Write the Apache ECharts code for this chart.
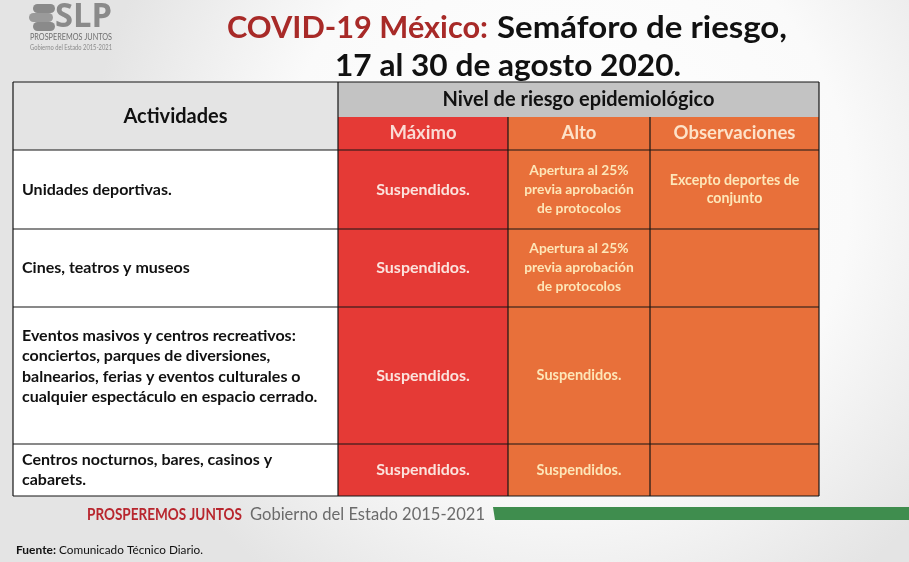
<!DOCTYPE html>
<html><head><meta charset="utf-8">
<script src="https://cdn.jsdelivr.net/npm/echarts@6/dist/echarts.min.js"></script>
<style>html,body{margin:0;padding:0;background:#fff}#c{width:909px;height:562px;}</style>
</head><body><div id="c"></div>
<script>
// ---------- data ----------
const titleRed = "COVID-19 México:";
const titleBlack = "Semáforo de riesgo,";
const titleLine2 = "17 al 30 de agosto 2020.";
const firstColumnTitle = "Actividades";
const levelTitle = "Nivel de riesgo epidemiológico";
const levelHeaders = ["Máximo", "Alto", "Observaciones"];
const activities = [
  "Unidades deportivas.",
  "Cines, teatros y museos",
  "Eventos masivos y centros recreativos:\nconciertos, parques de diversiones,\nbalnearios, ferias y eventos culturales o\ncualquier espectáculo en espacio cerrado.",
  "Centros nocturnos, bares, casinos y\ncabarets."
];
const maximo = ["Suspendidos.", "Suspendidos.", "Suspendidos.", "Suspendidos."];
const alto = [
  "Apertura al 25%\nprevia aprobación\nde protocolos",
  "Apertura al 25%\nprevia aprobación\nde protocolos",
  "Suspendidos.",
  "Suspendidos."
];
const observaciones = ["Excepto deportes de\nconjunto", "", "", ""];
const footerRed = "PROSPEREMOS JUNTOS";
const footerGray = "Gobierno del Estado 2015-2021";
const sourceLabel = "Fuente:";
const sourceText = " Comunicado Técnico Diario.";
const logoText = "SLP";
const logoLine1 = "PROSPEREMOS JUNTOS";
const logoLine2 = "Gobierno del Estado 2015-2021";

// ---------- layout / style ----------
const FONT = 'Lato';
const TABLE = {left: 13, top: 82, width: 806, height: 414};
const colEdges = [0, 325, 495, 637, 806];
const rowEdges = [0, 35, 68, 147, 225, 362, 414];
const activityOffsetY = [0, 0, -9, 0];
const RED = '#e53a36', ORANGE = '#e8703a';
const levelBg = [RED, ORANGE, ORANGE];
const headTextColor = ['#fadbd4', '#fde2c8', '#fde2c8'];
const bodyTextColor = ['#fbe3dd', '#fde6b8', '#fde6b8'];

// width-fitting helper (horizontal scale so a text spans a target width)
const mctx = document.createElement('canvas').getContext('2d');
function fitScale(text, font, target) {
  mctx.font = font;
  const w = mctx.measureText(text).width;
  return w > 0 ? target / w : 1;
}
function fitText(text, left, top, size, weight, color, target, family) {
  const fam = family || FONT;
  const s = fitScale(text, weight + ' ' + size + 'px ' + fam, target);
  return {type:'text', left:left, top:top, scaleX:s, originX:0, originY:0,
    style:{text:text, fill:color, fontSize:size, fontWeight:weight, fontFamily:fam}};
}

const cells = [];
cells.push({c0:0,c1:1,r0:0,r1:2,text:firstColumnTitle,bg:'#e4e4e4',color:'#111',size:20,align:'center',dy:1});
cells.push({c0:1,c1:4,r0:0,r1:1,text:levelTitle,bg:'#c3c3c3',color:'#111',size:20,align:'center'});
levelHeaders.forEach((h,k)=>cells.push({c0:k+1,c1:k+2,r0:1,r1:2,text:h,bg:levelBg[k],color:headTextColor[k],size:18.5,align:'center'}));
activities.forEach((a,i)=>{
  cells.push({c0:0,c1:1,r0:i+2,r1:i+3,text:a,bg:'#ffffff',color:'#111',size:16,align:'left',lh:20.5,dy:activityOffsetY[i]});
  cells.push({c0:1,c1:2,r0:i+2,r1:i+3,text:maximo[i],bg:RED,color:bodyTextColor[0],size:16,align:'center'});
  cells.push({c0:2,c1:3,r0:i+2,r1:i+3,text:alto[i],bg:ORANGE,color:bodyTextColor[1],size:i<2?13.8:14.5,align:'center',lh:19});
  cells.push({c0:3,c1:4,r0:i+2,r1:i+3,text:observaciones[i],bg:ORANGE,color:bodyTextColor[2],size:14.2,align:'center',lh:18});
});
// border segments: type h: [row, c0, c1]; type v: [col, r0, r1]
const borders = [
  ['h',0,0,4],['h',2,0,4],['h',3,0,4],['h',4,0,4],['h',5,0,4],['h',6,0,4],
  ['v',0,0,6],['v',1,0,6],['v',2,1,6],['v',3,1,6],['v',4,0,6]
];

const chart = echarts.init(document.getElementById('c'));
chart.setOption({
  backgroundColor: {type:'radial', x:0.62, y:0.35, r:0.85,
    colorStops:[{offset:0,color:'#ffffff'},{offset:0.6,color:'#fafafa'},{offset:1,color:'#e4e4e4'}]},
  animation: false,
  grid: {left: TABLE.left, top: TABLE.top, width: TABLE.width, height: TABLE.height},
  xAxis: {type:'value', min:0, max:TABLE.width, show:false},
  yAxis: {type:'value', min:0, max:TABLE.height, inverse:true, show:false},
  series: [
    {
      type:'custom', clip:false, silent:true,
      data: cells.map((_,i)=>[i]),
      renderItem: function(params, api){
        const c = cells[params.dataIndex];
        const p0 = api.coord([colEdges[c.c0], rowEdges[c.r0]]);
        const p1 = api.coord([colEdges[c.c1], rowEdges[c.r1]]);
        const w = p1[0]-p0[0], h = p1[1]-p0[1];
        const tx = c.align === 'left' ? p0[0] + 9 : p0[0] + w/2;
        return {type:'group', children:[
          {type:'rect', shape:{x:p0[0], y:p0[1], width:w, height:h}, style:{fill:c.bg}},
          {type:'text', style:{text:c.text, x:tx, y:p0[1]+h/2+(c.dy||0), align:c.align, verticalAlign:'middle',
            fill:c.color, fontSize:c.size, fontWeight:'bold', fontFamily:FONT, lineHeight:c.lh||c.size*1.3}}
        ]};
      }
    },
    {
      type:'custom', clip:false, silent:true,
      data: borders.map((_,i)=>[i]),
      renderItem: function(params, api){
        const b = borders[params.dataIndex];
        let a, z;
        if (b[0]==='h') { a = api.coord([colEdges[b[2]], rowEdges[b[1]]]); z = api.coord([colEdges[b[3]], rowEdges[b[1]]]); }
        else { a = api.coord([colEdges[b[1]], rowEdges[b[2]]]); z = api.coord([colEdges[b[1]], rowEdges[b[3]]]); }
        return {type:'line', shape:{x1:a[0], y1:a[1], x2:z[0], y2:z[1]}, style:{stroke:'#151515', lineWidth:1.2}};
      }
    }
  ],
  graphic: [
    // title
    fitText(titleRed, 227, 12, 31, 'bold', '#a82a28', 261),
    fitText(titleBlack, 497, 12, 31, 'bold', '#111', 290),
    fitText(titleLine2, 335, 50, 31, 'bold', '#111', 346),
    // logo
    {type:'rect', x:33, y:4, shape:{x:0, y:0, width:22, height:9, r:4.5}, style:{fill:'#8a8a8a'}},
    {type:'rect', x:29, y:13, shape:{x:0, y:0, width:24, height:9, r:4.5}, style:{fill:'#9a9a9a'}},
    {type:'rect', x:33, y:22, shape:{x:0, y:0, width:22, height:9, r:4.5}, style:{fill:'#8a8a8a'}},
    fitText(logoText, 55, 0, 34, 'bold', '#8a8a8a', 57, 'Open Sans'),
    fitText(logoLine1, 30, 33, 9, 'normal', '#6f6f6f', 82),
    fitText(logoLine2, 30, 44, 7, 'normal', '#8a8a8a', 82),
    // footer
    fitText(footerRed, 87, 506, 17, 'bold', '#b8262e', 155),
    fitText(footerGray, 250, 506, 17, 'normal', '#6b6b6b', 235),
    {type:'polygon', shape:{points:[[493,507],[909,507],[909,520],[495,520]]}, style:{fill:'#3f8d4e'}},
    fitText(sourceLabel, 16, 544, 12, 'bold', '#111', 40),
    fitText(sourceText, 56, 544, 12, 'normal', '#111', 147)
  ]
});
</script></body></html>
